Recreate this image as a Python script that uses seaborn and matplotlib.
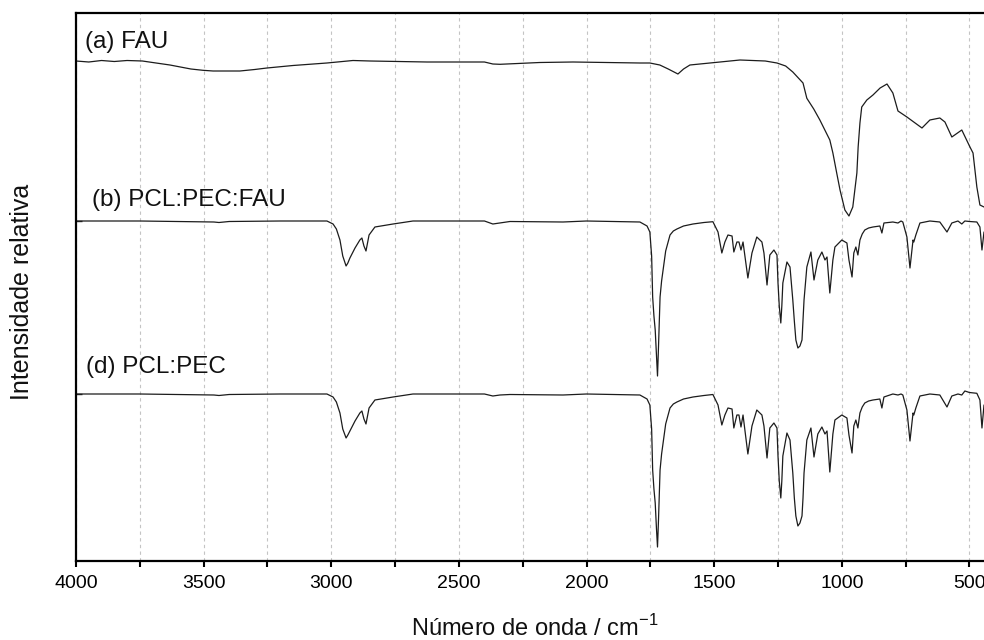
import numpy as np
import pandas as pd
import matplotlib
matplotlib.use("Agg")
import matplotlib.pyplot as plt
import seaborn as sns
from matplotlib.ticker import MultipleLocator

# ---------------- data (wavenumber / cm-1, relative intensity, arbitrary units) ----------------
wn_a = [4000, 3950, 3900, 3850, 3800, 3740, 3700, 3632, 3550, 3503, 3463, 3358, 3300, 3252,
        3150, 3017, 2915, 2848, 2625, 2496, 2400, 2367, 2339, 2183, 2053, 1791, 1752, 1713,
        1680, 1642, 1620, 1595, 1556, 1477, 1399, 1300, 1254, 1220, 1192, 1152, 1137, 1110,
        1086, 1047, 1035, 1020, 1007, 988, 972, 957, 941, 936, 929, 922, 902, 878, 850, 823,
        800, 780, 745, 686, 655, 616, 596, 569, 530, 498, 486, 471, 459, 443]
int_a = [500, 499, 500.5, 499.5, 500.5, 500, 498.5, 496, 492, 490.7, 490, 490, 491.5, 493,
         495.5, 498, 500.5, 500, 499, 499, 499, 497, 496.7, 498.5, 499, 498, 498, 496,
         492, 487, 492, 496, 497, 499, 501, 500, 498, 495, 489, 478, 462.7, 452,
         441, 421, 408, 388, 371, 351, 345, 354, 388, 414, 438, 454, 461, 466, 473, 477,
         468, 450, 444, 433, 441, 443, 439, 424, 431, 414, 408, 374, 356, 354]

wn_pol = [4000, 3750, 3600, 3460, 3440, 3400, 3200, 3017, 2993, 2980, 2966, 2955,
          2942, 2935, 2927, 2907, 2888, 2880, 2872, 2864, 2852, 2829, 2758, 2680,
          2400, 2367, 2339, 2300, 2092, 2000, 1791, 1763, 1752, 1745, 1741, 1736,
          1731, 1726, 1722, 1718, 1715, 1712, 1706, 1700, 1690, 1673, 1660, 1646,
          1620, 1583, 1540, 1505, 1485, 1470, 1458, 1446, 1430, 1423, 1411, 1403,
          1395, 1387, 1368, 1352, 1333, 1313, 1305, 1293, 1282, 1266, 1254, 1250,
          1245, 1239, 1235, 1231, 1215, 1203, 1192, 1186, 1180, 1172, 1164, 1156,
          1152, 1148, 1137, 1121, 1109, 1094, 1078, 1066, 1058, 1047, 1035, 1027,
          1000, 980, 972, 960, 953, 945, 937, 929, 920, 910, 895, 878,
          851, 843, 835, 800, 780, 768, 761, 745, 733, 721, 718, 710,
          694, 655, 616, 588, 569, 545, 530, 518, 500, 471, 459, 451,
          443]

int_b = [340, 340, 339.5, 339, 338.5, 339.5, 340, 340, 337, 332, 321, 305,
         295, 298, 303, 313, 321, 323, 315, 310, 326, 334, 337, 340,
         340, 337, 338, 339.5, 339, 340, 339, 335, 329, 305, 264, 245,
         231, 205, 185, 215, 241, 264, 280, 291, 310, 326, 330, 332,
         335, 337, 338.5, 339.3, 329, 308, 319, 326, 325, 309, 319, 319,
         311, 319, 283, 308, 324, 319, 308, 276, 306, 311, 306, 278,
         255, 238, 255, 278, 299, 294, 261, 240, 221, 213, 215, 221,
         240, 261, 294, 309, 281, 301, 309, 301, 304, 268, 301, 314,
         321, 318, 301, 284, 308, 314, 306, 321, 327, 331, 333, 334,
         335, 328, 338, 339, 338, 340, 339, 324, 293, 321, 319, 326,
         338, 340, 339, 329, 338, 340, 337, 340, 339.5, 339, 334, 311,
         329]

int_d = [167, 167, 166.5, 166, 165.5, 166.5, 167, 167, 164, 159, 148, 132,
         123, 126, 130, 140, 148, 150, 142, 137, 153, 161, 164, 167,
         167, 165, 166, 166.5, 166, 167, 166, 162, 156, 132, 91, 72,
         58, 32, 14, 42, 68, 91, 107, 118, 137, 153, 157, 159,
         162, 164, 165.5, 166.5, 156, 136, 146, 153, 152, 133, 146, 146,
         134, 146, 107, 135, 151, 146, 135, 103, 133, 138, 133, 105,
         80, 63, 80, 105, 128, 121, 88, 63, 45, 35, 38, 45,
         63, 88, 121, 133, 104, 127, 134, 127, 130, 89, 127, 141,
         146, 143, 126, 108, 135, 141, 133, 148, 154, 158, 160, 161,
         162, 153, 164, 167, 166, 167, 166, 151, 120, 148, 146, 153,
         165, 167, 166, 154, 165, 167, 166, 170, 168.5, 167.7, 161, 133,
         156]

labels = ["(a) FAU", "(b) PCL:PEC:FAU", "(d) PCL:PEC"]
label_wn = [3965, 3939, 3961]
label_int = [513, 355, 188]
baseline_ticks = [167, 340]
x_major = 500
x_minor = 250

# ---------------- style ----------------
sns.set_style("white")
plt.rcParams["font.family"] = ["Liberation Sans", "DejaVu Sans"]

fig = plt.figure(figsize=(9.84, 6.4), dpi=100)
ax = fig.add_axes([76 / 984, 79 / 640, 908 / 984, 548 / 640])

line_color = "#1c1c1c"
for wn, vals in [(wn_a, int_a), (wn_pol, int_b), (wn_pol, int_d)]:
    df = pd.DataFrame({"wn": wn, "val": vals})
    sns.lineplot(data=df, x="wn", y="val", ax=ax, color=line_color, linewidth=0.9,
                 estimator=None, sort=False)

ax.set_xlim(4000, 443)
ax.set_ylim(0, 548)

ax.xaxis.set_major_locator(MultipleLocator(x_major))
ax.xaxis.set_minor_locator(MultipleLocator(x_minor))
ax.grid(which="both", axis="x", linestyle=(0, (3, 3)), color="#c4c4c4", linewidth=0.8)
ax.grid(which="both", axis="y", visible=False)
ax.set_axisbelow(True)

for side in ["left", "top", "bottom"]:
    ax.spines[side].set_visible(True)
    ax.spines[side].set_color("black")
    ax.spines[side].set_linewidth(1.6)
ax.spines["right"].set_visible(False)

ax.tick_params(axis="x", which="both", direction="out", length=4, width=1.5,
               bottom=True, labelsize=14, pad=6, colors="black")
ax.set_yticks(baseline_ticks)
ax.set_yticklabels([])
ax.tick_params(axis="y", which="major", direction="in", length=4, width=1, left=True)

ax.set_xlabel("")
ax.set_ylabel("")

for lab, xw, yv in zip(labels, label_wn, label_int):
    ax.text(xw, yv, lab, fontsize=17.5, ha="left", va="baseline", color="#111111")

fig.text(535 / 984, 4 / 640, "Número de onda / cm$^{\\mathregular{-1}}$", fontsize=17,
         ha="center", va="baseline", color="#111111")
fig.text(22 / 984, 1 - 292 / 640, "Intensidade relativa", fontsize=18,
         rotation=90, ha="center", va="center", color="#111111")

fig.savefig("out.png", dpi=100)
